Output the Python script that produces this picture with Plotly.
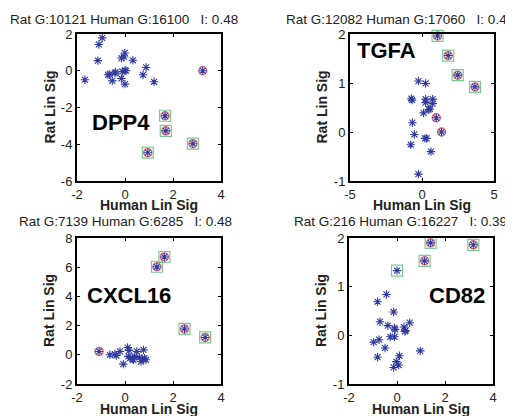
import plotly.graph_objects as go

# ---------------- data ----------------
titles = ["Rat G:10121 Human G:16100   I: 0.48",
          "Rat G:12082 Human G:17060   I: 0.47",
          "Rat G:7139 Human G:6285   I: 0.48",
          "Rat G:216 Human G:16227   I: 0.39"]
genes = ["DPP4", "TGFA", "CXCL16", "CD82"]

dpp4_x = [-0.95, -1.09, -1.13, -1.67, -0.71, -0.64, -0.42, -0.39, -0.53, -0.15, -0.11, 0.0, 0.04,
          -0.15, -0.04, -0.01, 0.0, 0.33, 0.88, 0.75, 1.21, 3.24, 1.67, 1.70, 2.83, 0.95]
dpp4_y = [1.79, 1.43, 0.55, -0.49, -0.22, -0.20, -0.13, -0.07, -0.55, -0.42, -0.04, 0.02, 0.0,
          0.69, 0.75, 0.97, -0.73, 0.57, 0.18, -0.22, -0.60, 0.0, -2.45, -3.27, -3.97, -4.46]
dpp4_circled = [21, 22, 23, 24, 25]
dpp4_boxed = [22, 23, 24, 25]

tgfa_x = [-0.25, 0.25, -0.74, -0.69, 0.25, 0.25, 0.74, 0.74, 0.46, 0.55, 0.11, -0.67, -0.53, 0.21,
          0.32, -0.78, 0.62, -0.25, 0.99, 1.36, 1.08, 1.82, 2.48, 3.68, 5.03]
tgfa_y = [1.04, 0.99, 0.68, 0.65, 0.67, 0.60, 0.67, 0.58, 0.46, 0.47, 0.39, 0.19, -0.05, -0.13,
          -0.13, -0.26, -0.40, -0.86, 0.29, 0.0, 1.96, 1.56, 1.16, 0.92, 0.95]
tgfa_circled = [18, 19, 20, 21, 22, 23, 24]
tgfa_boxed = [20, 21, 22, 23, 24]

cxcl16_x = [-0.63, -0.42, -0.36, -0.21, -0.07, 0.11, 0.17, 0.14, 0.21, 0.31, 0.39, 0.49, 0.60,
            0.71, 0.77, 0.81, 0.87, 0.67, 0.35, -1.08, 1.64, 1.33, 2.48, 3.34]
cxcl16_y = [0.0, 0.05, -0.05, 0.23, -0.64, 0.50, 0.30, -0.11, -0.23, -0.28, -0.11, 0.23, -0.18,
            -0.28, 0.34, -0.23, -0.34, -0.46, -0.34, 0.23, 6.70, 6.03, 1.77, 1.19]
cxcl16_circled = [19, 20, 21, 22, 23]
cxcl16_boxed = [20, 21, 22, 23]

cd82_x = [-0.44, -0.81, -0.14, -0.71, -0.38, -0.11, -0.08, 0.29, 0.36, 0.53, 0.33, -0.28, -0.10,
          -0.97, -0.75, -0.50, -0.81, 0.10, -0.03, -0.14, 0.07, 0.97, 1.40, 3.18, 1.15, 0.0]
cd82_y = [0.84, 0.69, 0.48, 0.28, 0.20, 0.15, 0.12, 0.17, 0.10, 0.26, 0.08, -0.03, -0.03,
          -0.14, -0.09, -0.26, -0.45, -0.42, -0.54, -0.66, -0.61, -0.32, 1.90, 1.86, 1.53, 1.33]
cd82_circled = [22, 23, 24]
cd82_boxed = [22, 23, 24, 25]

x_ranges = [[-2, 4], [-5, 5], [-2, 4], [-2, 4]]
y_ranges = [[-6, 2], [-1, 2], [-2, 8], [-1, 2]]
x_ticks = [[-2, 0, 2, 4], [-5, 0, 5], [-2, 0, 2, 4], [-2, 0, 2, 4]]
y_ticks = [[-6, -4, -2, 0, 2], [-1, 0, 1, 2], [-2, 0, 2, 4, 6, 8], [-1, 0, 1, 2]]
label_pos = [(-0.17, -2.84), (-2.5, 1.67), (0.17, 4.03), (2.5, 0.81)]

panels = [(dpp4_x, dpp4_y, dpp4_circled, dpp4_boxed),
          (tgfa_x, tgfa_y, tgfa_circled, tgfa_boxed),
          (cxcl16_x, cxcl16_y, cxcl16_circled, cxcl16_boxed),
          (cd82_x, cd82_y, cd82_circled, cd82_boxed)]

# ---------------- layout geometry ----------------
# the page body has an 8px margin, so the figure starts 8px in from the window corner
W, H = 513, 416
OFF = 8


def fx(p):
    return (p - OFF) / W


def fy(p):
    return 1 - (p - OFF) / H


x_doms = [[fx(77), fx(221)], [fx(350), fx(494)], [fx(77), fx(221)], [fx(349), fx(493)]]
y_doms = [[fy(181), fy(34)], [fy(181), fy(34)], [fy(384), fy(238)], [fy(384), fy(238)]]
title_cx = [124, 400, 125, 400]
title_cy = [19, 19, 222, 222]
ylab_cx = [49, 321, 49, 321]
xlab_cy = [205, 205, 409, 409]

FONT = "Liberation Sans, Arial, sans-serif"
BLUE = "#2e3a9e"
RED = "#e86a78"
GREEN = "#78cc92"

fig = go.Figure()
annotations = []
layout = dict(template="none", width=W, height=H,
              margin=dict(l=0, r=0, t=0, b=0, autoexpand=False),
              paper_bgcolor="white", plot_bgcolor="white", showlegend=False,
              font=dict(family=FONT, size=13, color="#222"))

for i, (px, py, circ, box) in enumerate(panels):
    sfx = "" if i == 0 else str(i + 1)
    xa, ya = "x" + sfx, "y" + sfx
    fig.add_trace(go.Scatter(x=[px[k] for k in box], y=[py[k] for k in box], mode="markers",
                             xaxis=xa, yaxis=ya, cliponaxis=False,
                             marker=dict(symbol="square-open", size=11, color=GREEN,
                                         line=dict(width=1.2, color=GREEN))))
    fig.add_trace(go.Scatter(x=[px[k] for k in circ], y=[py[k] for k in circ], mode="markers",
                             xaxis=xa, yaxis=ya, cliponaxis=False,
                             marker=dict(symbol="circle-open", size=8, color=RED,
                                         line=dict(width=1.5, color=RED))))
    fig.add_trace(go.Scatter(x=px, y=py, mode="markers", xaxis=xa, yaxis=ya, cliponaxis=False,
                             marker=dict(symbol="asterisk-open", size=7, color=BLUE,
                                         line=dict(width=1.1, color=BLUE))))
    common = dict(showline=True, linewidth=2, linecolor="black", mirror="ticks",
                  ticks="inside", ticklen=3, tickwidth=1, tickcolor="black", automargin=False,
                  showgrid=False, zeroline=False, tickfont=dict(size=13, color="#222"))
    layout["xaxis" + sfx] = dict(domain=x_doms[i], range=x_ranges[i], anchor=ya,
                                 tickvals=x_ticks[i], ticktext=[str(v) for v in x_ticks[i]], **common)
    layout["yaxis" + sfx] = dict(domain=y_doms[i], range=y_ranges[i], anchor=xa,
                                 tickvals=y_ticks[i], ticktext=[str(v) for v in y_ticks[i]], **common)
    cx = (x_doms[i][0] + x_doms[i][1]) / 2
    cy = (y_doms[i][0] + y_doms[i][1]) / 2
    annotations.append(dict(text=titles[i].replace(" ", "\u00a0"), x=fx(title_cx[i]), y=fy(title_cy[i]),
                            xref="paper", yref="paper", showarrow=False, xanchor="center", yanchor="middle",
                            font=dict(size=13.5, color="#222")))
    annotations.append(dict(text="<b>Human Lin Sig</b>", x=cx, y=fy(xlab_cy[i]),
                            xref="paper", yref="paper", showarrow=False, xanchor="center", yanchor="middle",
                            font=dict(size=14, color="#222")))
    annotations.append(dict(text="<b>Rat Lin Sig</b>", x=fx(ylab_cx[i]), y=cy, textangle=-90,
                            xref="paper", yref="paper", showarrow=False, xanchor="center", yanchor="middle",
                            font=dict(size=14, color="#222")))
    annotations.append(dict(text="<b>" + genes[i] + "</b>", x=label_pos[i][0], y=label_pos[i][1],
                            xref=xa, yref=ya, showarrow=False, xanchor="center", yanchor="middle",
                            font=dict(size=22, color="black")))

layout["annotations"] = annotations
fig.update_layout(**layout)
fig.write_html("out.html")
